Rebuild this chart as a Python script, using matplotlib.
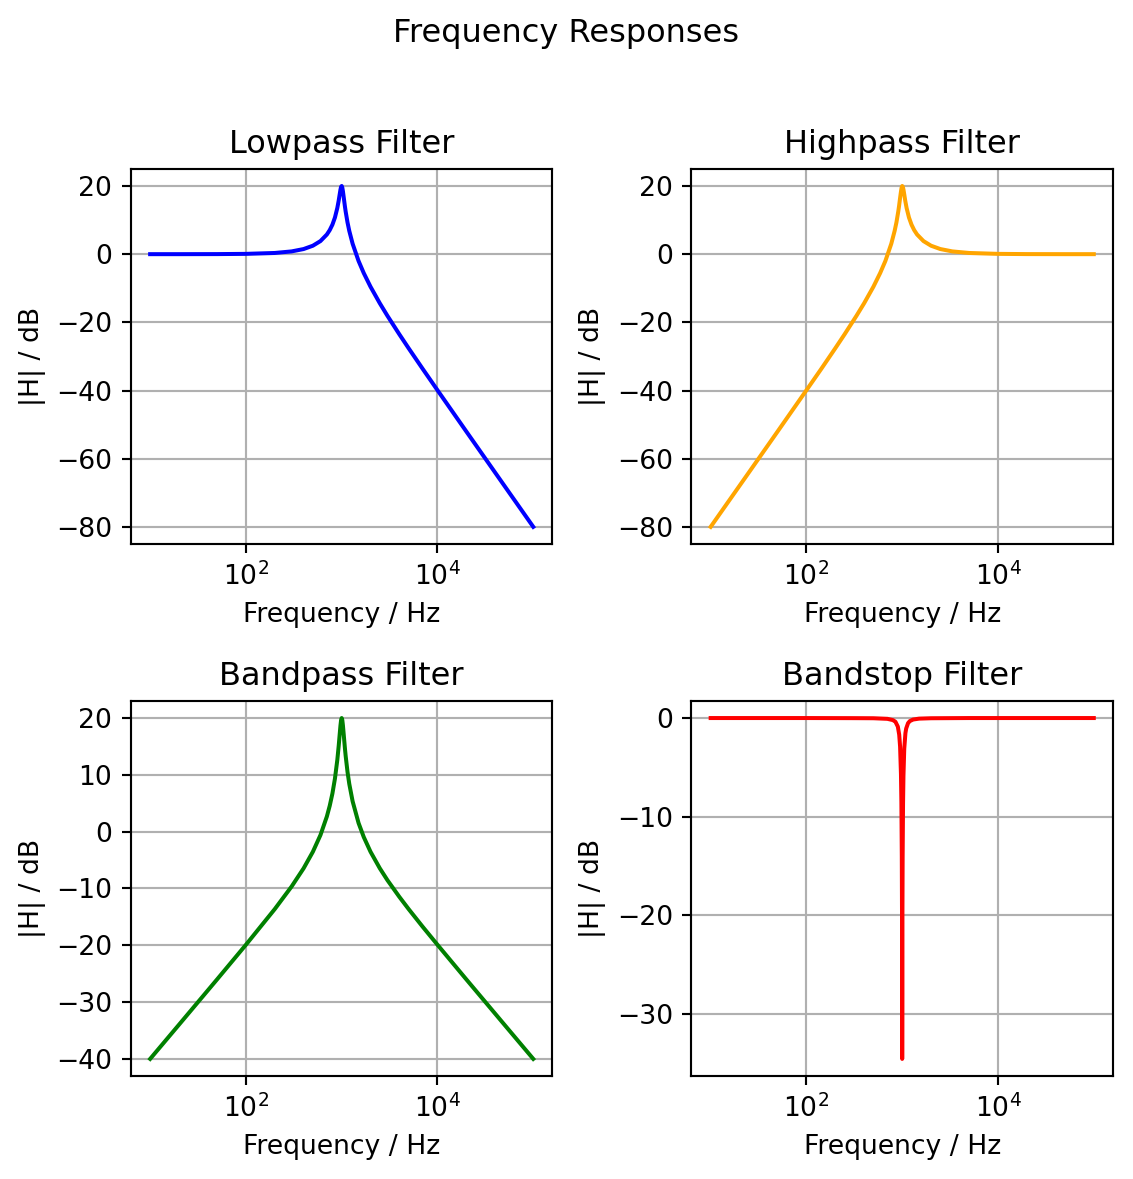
import numpy as np
import matplotlib
matplotlib.use('Agg')
import matplotlib.pyplot as plt
from matplotlib.ticker import FixedLocator, NullLocator, MultipleLocator

# Frequencies (Hz)
freq_lp = [10, 20, 50, 100, 200, 300, 400, 500, 600, 700, 750, 800, 850, 900,
           930, 950, 970, 985, 1000, 1015, 1030, 1050, 1080, 1100, 1150, 1200,
           1300, 1500, 1700, 2000, 2500, 3000, 4000, 5000, 7000, 10000, 20000,
           50000, 100000]

# Lowpass magnitude in dB
db_lp = [0.00, 0.00, 0.02, 0.09, 0.35, 0.81, 1.50, 2.48, 3.84, 5.77, 7.06, 8.66,
         10.75, 13.55, 15.70, 17.33, 18.89, 19.75, 20.00, 19.50, 18.44, 16.68,
         14.05, 12.50, 9.31, 6.82, 3.07, -2.00, -5.56, -9.56, -14.41, -18.07,
         -23.52, -27.61, -33.63, -39.91, -52.02, -67.96, -80.00]

# Highpass (mirror of lowpass around 1 kHz)
freq_hp = [10, 20, 50, 100, 143, 200, 250, 333, 400, 500, 588, 667, 769, 833,
           870, 909, 926, 952, 971, 985, 1000, 1015, 1031, 1053, 1075, 1111,
           1176, 1250, 1333, 1429, 1667, 2000, 2500, 3333, 5000, 10000, 20000,
           50000, 100000]
db_hp = [-80.00, -67.96, -52.02, -39.91, -33.63, -27.61, -23.52, -18.07, -14.41,
         -9.56, -5.56, -2.00, 3.07, 6.82, 9.31, 12.50, 14.05, 16.68, 18.44, 19.50,
         20.00, 19.75, 18.89, 17.33, 15.70, 13.55, 10.75, 8.66, 7.06, 5.77, 3.84,
         2.48, 1.50, 0.81, 0.35, 0.09, 0.02, 0.00, 0.00]

# Bandpass
db_bp = [-40.00, -33.98, -26.00, -19.91, -13.63, -9.65, -6.46, -3.54, -0.60, 2.67,
         4.56, 6.72, 9.34, 12.63, 15.07, 16.88, 18.63, 19.62, 20.00, 19.63, 18.70,
         17.10, 14.72, 13.33, 10.52, 8.40, 5.35, 1.52, -0.95, -3.54, -6.45, -8.53,
         -11.48, -13.63, -16.73, -19.91, -26.00, -33.98, -40.00]

# Bandstop
freq_bs = [10, 100, 300, 500, 700, 800, 850, 900, 930, 950, 970, 980, 990, 995,
           998, 999.07, 1002, 1005, 1010, 1020, 1030, 1050, 1080, 1100, 1150,
           1200, 1300, 1500, 2000, 5000, 100000]
db_bs = [0.00, 0.00, -0.01, -0.02, -0.08, -0.21, -0.38, -0.87, -1.69, -2.89,
         -5.68, -8.53, -14.10, -20.02, -27.97, -34.60, -27.95, -20.07, -14.20,
         -8.67, -5.87, -3.11, -1.53, -1.06, -0.52, -0.31, -0.15, -0.06, -0.02,
         0.00, 0.00]

x_ticks = [1e2, 1e4]
y_steps = [20, 20, 10, 10]

fig, axs = plt.subplots(2, 2, figsize=(1133 / 192, 1179 / 192), dpi=192)
fig.suptitle('Frequency Responses', y=0.985)

panels = [
    (axs[0, 0], freq_lp, db_lp, 'blue', 'Lowpass Filter'),
    (axs[0, 1], freq_hp, db_hp, 'orange', 'Highpass Filter'),
    (axs[1, 0], freq_lp, db_bp, 'green', 'Bandpass Filter'),
    (axs[1, 1], freq_bs, db_bs, 'red', 'Bandstop Filter'),
]

for (ax, f, h, c, t), step in zip(panels, y_steps):
    ax.semilogx(f, h, color=c)
    ax.set_title(t)
    ax.set_xlabel('Frequency / Hz')
    ax.set_ylabel('|H| / dB')
    ax.xaxis.set_major_locator(FixedLocator(x_ticks))
    ax.xaxis.set_minor_locator(NullLocator())
    ax.yaxis.set_major_locator(MultipleLocator(step))
    ax.grid(True)

fig.subplots_adjust(left=0.1156, right=0.9823, bottom=0.0874, top=0.8567,
                    wspace=0.330, hspace=0.419)
fig.savefig('out.png', dpi=192)
